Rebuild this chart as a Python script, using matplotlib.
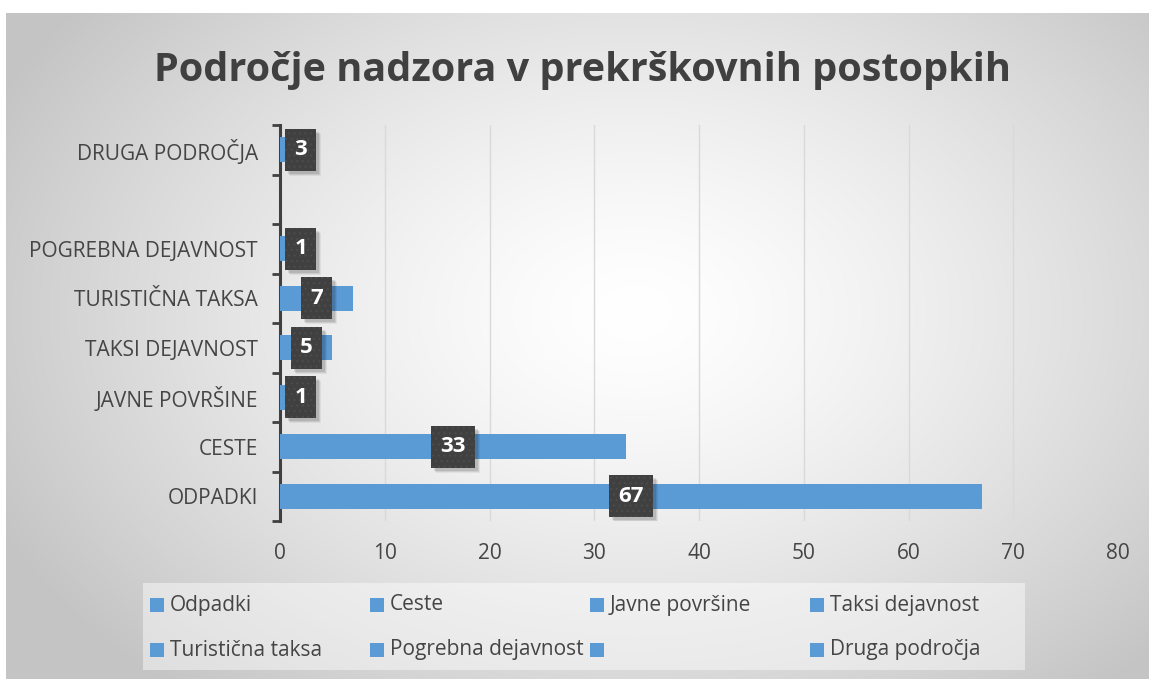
import numpy as np
import matplotlib
matplotlib.use("Agg")
import matplotlib.pyplot as plt
import matplotlib.transforms as mtransforms
from matplotlib.patches import Rectangle

plt.rcParams['font.family'] = ['Open Sans', 'DejaVu Sans']
plt.rcParams['hatch.linewidth'] = 0.8

# data (bottom to top, as drawn)
categories = ['ODPADKI', 'CESTE', 'JAVNE POVRŠINE', 'TAKSI DEJAVNOST',
              'TURISTIČNA TAKSA', 'POGREBNA DEJAVNOST', '', 'DRUGA PODROČJA']
values = [67, 33, 1, 5, 7, 1, None, 3]
legend_labels = ['Odpadki', 'Ceste', 'Javne površine', 'Taksi dejavnost',
                 'Turistična taksa', 'Pogrebna dejavnost', '', 'Druga področja']
x_ticks = [0, 10, 20, 30, 40, 50, 60, 70, 80]
title = 'Področje nadzora v prekrškovnih postopkih'

BLUE = '#5b9bd5'
DARK = '#404040'
TXT = '#454545'

W, H = 1149, 679
fig = plt.figure(figsize=(W / 100, H / 100), dpi=100)
fig.patch.set_facecolor('white')

# gradient background of the chart area
bg = fig.add_axes([6 / W, 0, 1 - 6 / W, 1 - 13 / H], zorder=-10)
gx, gy = np.meshgrid(np.linspace(0, 1, 400), np.linspace(0, 1, 240))
d = np.sqrt(((gx - 0.55) / 0.62) ** 2 + ((gy - 0.45) / 0.75) ** 2)
shade = 1.0 - 0.23 * np.clip(d, 0, 1) ** 1.4
bg.imshow(np.dstack([shade] * 3), aspect='auto', extent=(0, 1, 1, 0),
          interpolation='bilinear')
bg.axis('off')

ax = fig.add_axes([280 / W, 1 - 521 / H, 838 / W, 396 / H])
ax.set_facecolor('none')

ypos = np.arange(len(categories))
for y, v in zip(ypos, values):
    if v is None:
        continue
    ax.barh(y, v, height=0.5, color=BLUE, zorder=3)
    # data label: dark box (size in pixels) anchored at the label point
    xc = max(v / 2, 2.0)
    wpx = 18 + 13 * len(str(v))
    hpx = 42
    tr = fig.dpi_scale_trans + mtransforms.ScaledTranslation(xc, y, ax.transData)
    # soft shadow: a few stacked translucent rectangles
    for k, a in [(5, 0.06), (4, 0.08), (3, 0.10)]:
        ax.add_patch(Rectangle((-wpx / 200 + k / 100, -hpx / 200 - k / 100),
                               wpx / 100, hpx / 100, transform=tr,
                               fc='black', ec='none', alpha=a, zorder=3.8))
    ax.add_patch(Rectangle((-wpx / 200, -hpx / 200), wpx / 100, hpx / 100, transform=tr,
                           fc=DARK, ec='#4c4c4c', lw=0, hatch='...', zorder=4))
    ax.text(xc, y, str(v), ha='center', va='center', fontsize=16,
            fontweight='bold', color='white', zorder=5)

ax.set_xlim(0, 80)
ax.set_ylim(-0.5, len(categories) - 0.5)
ax.set_xticks(x_ticks)
ax.set_xticklabels([str(t) for t in x_ticks])
ax.tick_params(axis='x', length=0, pad=16, labelsize=15, labelcolor=TXT)
ax.grid(axis='x', color='#d9d9d9', lw=1, zorder=0)

ax.set_yticks(np.arange(-0.5, len(categories), 1.0))
ax.set_yticklabels([])
ax.tick_params(axis='y', which='major', length=6, width=2, color=DARK)
ax.set_yticks(ypos, minor=True)
ax.set_yticklabels(categories, minor=True)
ax.tick_params(axis='y', which='minor', length=0, pad=16, labelsize=15, labelcolor=TXT)

for s in ['top', 'right', 'bottom']:
    ax.spines[s].set_visible(False)
ax.spines['left'].set_color(DARK)
ax.spines['left'].set_linewidth(2.2)

fig.text(582 / W, 1 - 70 / H, title, ha='center', va='center',
         fontsize=28.5, fontweight='bold', color=DARK)

# legend drawn as a 4-column grid, row by row
fig.patches.append(Rectangle((143 / W, 1 - 670 / H), 882 / W, 87 / H,
                             transform=fig.transFigure, fc='white', ec='none', alpha=0.45))
for i, lab in enumerate(legend_labels):
    row, col = divmod(i, 4)
    x0 = (150 + 220 * col) / W
    yc = 1 - (605 + 45 * row) / H
    fig.patches.append(Rectangle((x0, yc - 7 / H), 14 / W, 14 / H,
                                 transform=fig.transFigure, fc=BLUE, ec='none'))
    fig.text(x0 + 20 / W, yc, lab, ha='left', va='center', fontsize=15, color=TXT)

fig.savefig('out.png', dpi=100, facecolor='white')
